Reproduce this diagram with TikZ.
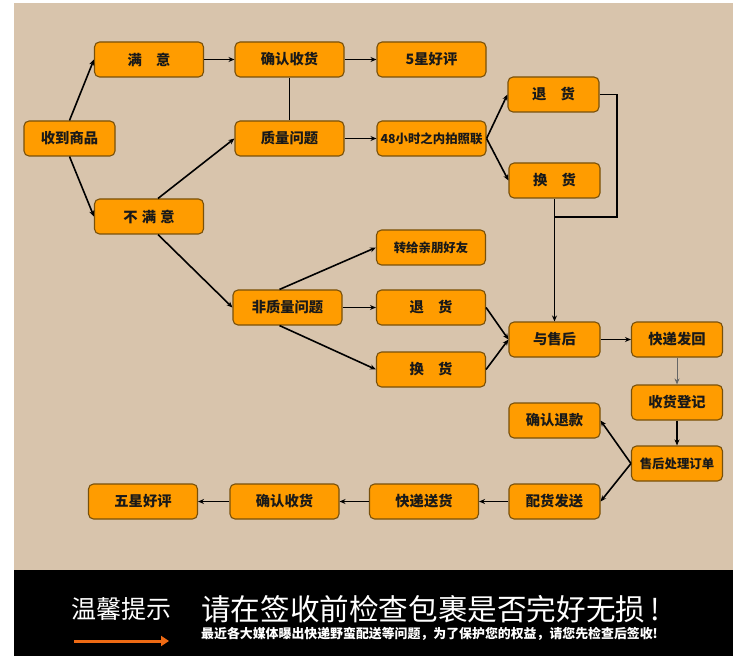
\documentclass[tikz,border=0pt]{standalone}
\usepackage{fontspec}
\newfontfamily\cjk{Noto Sans CJK SC}
\usetikzlibrary{arrows.meta}
\definecolor{bg}{RGB}{216,196,172}
\definecolor{boxfill}{RGB}{255,156,0}
\definecolor{boxborder}{RGB}{120,80,10}
\definecolor{tiporange}{RGB}{238,106,20}
\begin{document}
\begin{tikzpicture}[x=1pt,y=-1pt,
  box/.style={draw=boxborder, fill=boxfill, rounded corners=5pt, line width=1.1pt, inner sep=0pt,
    font=\cjk\bfseries\fontsize{14.3}{16}\selectfont, text=black!90},
  wide/.style={box, minimum width=109pt, minimum height=35pt},
  narrow/.style={box, minimum width=91pt, minimum height=35pt},
  small/.style={font=\cjk\bfseries\fontsize{12.4}{14}\selectfont},
  arr/.style={line width=1.6pt, -{Stealth[length=6pt,width=5pt]}},
  ln/.style={line width=1.6pt}]
\useasboundingbox (0,0) rectangle (750,663);
\fill[white] (0,0) rectangle (750,663);
\fill[bg] (14,3) rectangle (733,570);
\fill[black] (14,570) rectangle (733,656);

% nodes
\node[narrow] (sd) at (69.5,138.5) {收到商品};
\node[wide] (my) at (149,59.5) {满　意};
\node[wide] (qr1) at (289.5,59.5) {确认收货};
\node[wide] (wx1) at (431.5,59.5) {5星好评};
\node[wide] (zl) at (289.5,138.5) {质量问题};
\node[wide, small] (h48) at (431.5,138.5) {48小时之内拍照联};
\node[narrow] (th1) at (553.5,94.5) {退　货};
\node[narrow] (hh1) at (554.5,180.5) {换　货};
\node[wide] (bmy) at (149,216.5) {不\hspace{0.3em}满\hspace{0.3em}意};
\node[wide, small] (zg) at (431,247.5) {转给亲朋好友};
\node[wide] (fzl) at (287.5,307.5) {非质量问题};
\node[wide] (th2) at (431,307.5) {退　货};
\node[wide] (hh2) at (431,369.5) {换　货};
\node[narrow] (ys) at (554.5,339.5) {与售后};
\node[narrow] (kdfh) at (677,339.5) {快递发回};
\node[narrow] (shdj) at (677,402.5) {收货登记};
\node[narrow] (qrtk) at (554.5,420.5) {确认退款};
\node[narrow, small] (shcl) at (677,463.5) {售后处理订单};
\node[narrow] (phfs) at (554.5,501.5) {配货发送};
\node[wide] (kdsh) at (424,501.5) {快递送货};
\node[wide] (qr2) at (284.5,501.5) {确认收货};
\node[wide] (wx2) at (143,501.5) {五星好评};

% connectors
\draw[arr] (sd.north) -- (my.west);
\draw[arr] (sd.south) -- (bmy.west);
\draw[arr] (my.east) -- (qr1.west);
\draw[arr] (qr1.east) -- (wx1.west);
\draw[ln] (qr1.south) -- (zl.north);
\draw[arr] ([xshift=9pt]bmy.north) -- (zl.west);
\draw[arr] ([xshift=9pt]bmy.south) -- (fzl.west);
\draw[arr] (zl.east) -- (h48.west);
\draw[arr] (h48.east) -- (th1.west);
\draw[arr] (h48.east) -- (hh1.west);
\coordinate (j) at (555,217);
\draw[ln] (th1.east) -| (617,217) -- (j);
\draw[arr] (hh1.south) -- (ys.north);
\draw[arr] ([xshift=-8pt]fzl.north) -- (zg.west);
\draw[arr] (fzl.east) -- (th2.west);
\draw[arr] ([xshift=-8pt]fzl.south) -- (hh2.west);
\draw[arr] (th2.east) -- (ys.west);
\draw[arr] (hh2.east) -- (ys.west);
\draw[arr] (ys.east) -- (kdfh.west);
\draw[line width=1pt, black!60, -{Stealth[length=6pt,width=5pt]}] (kdfh.south) -- (shdj.north);
\draw[arr] (shdj.south) -- (shcl.north);
\draw[arr] (shcl.west) -- (qrtk.east);
\draw[arr] (shcl.west) -- (phfs.east);
\draw[arr] (phfs.west) -- (kdsh.east);
\draw[arr] (kdsh.west) -- (qr2.east);
\draw[arr] (qr2.west) -- (wx2.east);

% banner
\node[text=white, font=\cjk\fontsize{25}{28}\selectfont, inner sep=0pt] (tip) at (121,609) {温馨提示};
\node[text=white, font=\cjk\fontsize{29.6}{32}\selectfont, inner sep=0pt, anchor=west] (big) at (201,609) {请在签收前检查包裹是否完好无损\,!};
\node[text=white, font=\cjk\bfseries\fontsize{12.9}{14}\selectfont, inner sep=0pt, anchor=west] (sm) at (201,634) {最近各大媒体曝出快递野蛮配送等问题，为了保护您的权益，请您先检查后签收!};
\coordinate (a1) at (74,641);
\coordinate (a2) at (169,641);
\draw[tiporange, line width=3pt, -{Triangle[length=8pt,width=10pt]}] (a1) -- (a2);
\end{tikzpicture}
\end{document}
